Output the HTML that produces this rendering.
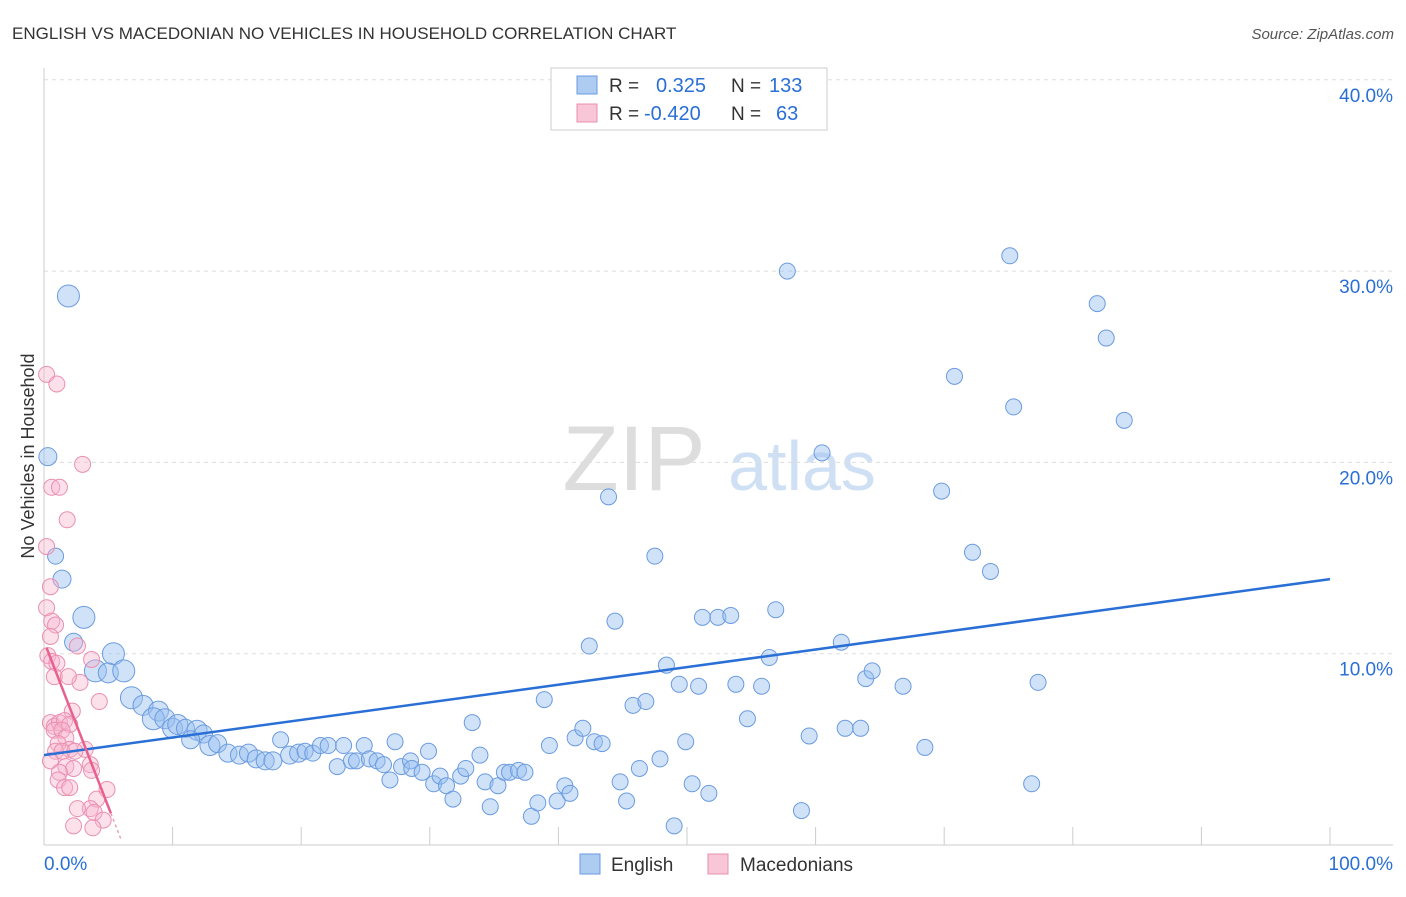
<!DOCTYPE html>
<html><head><meta charset="utf-8"><style>
body{margin:0;background:#fff;font-family:"Liberation Sans",sans-serif}
svg text{font-family:"Liberation Sans",sans-serif}
</style></head><body>
<svg id="chart" width="1406" height="892" xmlns="http://www.w3.org/2000/svg">
<text x="12" y="39" font-size="17" fill="#333">ENGLISH VS MACEDONIAN NO VEHICLES IN HOUSEHOLD CORRELATION CHART</text>
<text x="1394" y="39" font-size="15" fill="#555" text-anchor="end" font-style="italic">Source: ZipAtlas.com</text>
<g>
<text x="634" y="490" font-size="92" fill="#ddd" text-anchor="middle" font-family="Liberation Serif,serif">ZIP</text>
<text x="802" y="490" font-size="70" fill="#cfe0f5" text-anchor="middle">atlas</text>
</g>
<g id="grid"></g>
<g id="axes"></g>
<g id="marks"></g>
<g>
<rect x="551" y="68" width="276" height="62" fill="#fff" stroke="#ccc"/>
<rect x="577" y="76" width="20" height="18" fill="#aecbf2" stroke="#6b9be0"/>
<text x="609" y="92" font-size="19" fill="#333">R =</text>
<text x="656" y="92" font-size="20" fill="#2a6fd6">0.325</text>
<text x="731" y="92" font-size="19" fill="#333">N =</text>
<text x="769" y="92" font-size="20" fill="#2a6fd6">133</text>
<rect x="577" y="104" width="20" height="18" fill="#f8c6d6" stroke="#ea8fb0"/>
<text x="609" y="120" font-size="19" fill="#333">R =</text>
<text x="644" y="120" font-size="20" fill="#2a6fd6">-0.420</text>
<text x="731" y="120" font-size="19" fill="#333">N =</text>
<text x="776" y="120" font-size="20" fill="#2a6fd6">63</text>
</g>
<g>
<rect x="580" y="854" width="20" height="20" fill="#aecbf2" stroke="#6b9be0"/>
<text x="611" y="871" font-size="19" fill="#333">English</text>
<rect x="708" y="854" width="20" height="20" fill="#f8c6d6" stroke="#ea8fb0"/>
<text x="740" y="871" font-size="19" fill="#333">Macedonians</text>
</g>
<text transform="translate(34,456) rotate(-90)" font-size="18" fill="#333" text-anchor="middle">No Vehicles in Household</text>
</svg>
<script>
const yTicks=[10,20,30,40];
const yTickLabels=["10.0%","20.0%","30.0%","40.0%"];
const xTickLabels=["0.0%","100.0%"];
const blueX=[1.9,0.3,0.9,1.4,3.1,2.3,5.4,4.0,5.0,6.2,6.8,7.7,8.9,8.5,9.4,10.0,10.4,11.0,11.9,12.4,11.4,12.9,13.5,14.3,15.2,15.9,16.5,17.2,17.8,18.4,19.1,19.8,20.3,20.9,21.5,22.1,22.8,23.3,23.9,24.3,24.9,25.3,25.9,26.4,26.9,27.3,27.8,28.5,28.6,29.4,29.9,30.3,30.8,31.3,31.8,32.4,32.8,33.3,33.9,34.3,34.7,35.3,35.8,36.2,36.9,37.4,37.9,38.4,38.9,39.3,39.9,40.5,40.9,41.3,41.9,42.4,42.8,43.4,43.9,44.4,44.8,45.3,45.8,46.3,46.8,47.5,47.9,48.4,49.0,49.4,49.9,50.4,50.9,51.2,51.7,52.4,53.4,53.8,54.7,55.8,56.4,56.9,57.8,58.9,59.5,60.5,62.0,62.3,63.5,63.9,64.4,66.8,68.5,69.8,70.8,72.2,73.6,75.1,75.4,76.8,77.3,81.9,82.6,84.0];
const blueY=[28.7,20.3,15.1,13.9,11.9,10.6,10.0,9.1,9.0,9.1,7.7,7.3,7.0,6.6,6.6,6.1,6.3,6.1,6.0,5.8,5.5,5.2,5.3,4.8,4.7,4.8,4.5,4.4,4.4,5.5,4.7,4.8,4.9,4.8,5.2,5.2,4.1,5.2,4.4,4.4,5.2,4.5,4.4,4.2,3.4,5.4,4.1,4.4,4.0,3.8,4.9,3.2,3.6,3.1,2.4,3.6,4.0,6.4,4.7,3.3,2.0,3.1,3.8,3.8,3.9,3.8,1.5,2.2,7.6,5.2,2.3,3.1,2.7,5.6,6.1,10.4,5.4,5.3,18.2,11.7,3.3,2.3,7.3,4.0,7.5,15.1,4.5,9.4,1.0,8.4,5.4,3.2,8.3,11.9,2.7,11.9,12.0,8.4,6.6,8.3,9.8,12.3,30.0,1.8,5.7,20.5,10.6,6.1,6.1,8.7,9.1,8.3,5.1,18.5,24.5,15.3,14.3,30.8,22.9,3.2,8.5,28.3,26.5,22.2];
const blueSize=[11,9,8,9,11,9,11,11,10,11,11,10,10,11,10,10,10,9,10,9,9,10,9,9,9,9,9,9,9,8,9,9,8,8,8,8,8,8,8,8,8,8,8,8,8,8,8,8,8,8,8,8,8,8,8,8,8,8,8,8,8,8,8,8,8,8,8,8,8,8,8,8,8,8,8,8,8,8,8,8,8,8,8,8,8,8,8,8,8,8,8,8,8,8,8,8,8,8,8,8,8,8,8,8,8,8,8,8,8,8,8,8,8,8,8,8,8,8,8,8,8,8,8,8,8];
const pinkX=[0.2,1.0,3.0,0.6,1.2,1.8,0.2,0.5,0.2,0.6,0.9,0.5,2.6,0.3,0.6,3.7,1.0,0.8,2.8,1.9,4.3,2.2,0.5,0.8,1.2,1.6,2.0,0.8,1.4,1.7,1.1,2.0,3.2,0.9,1.4,2.4,0.5,1.7,2.3,3.6,3.7,1.2,1.1,1.6,2.0,4.9,4.1,3.6,2.6,3.9,4.6,2.3,3.8];
const pinkY=[24.6,24.1,19.9,18.7,18.7,17.0,15.6,13.5,12.4,11.7,11.5,10.9,10.4,9.9,9.6,9.7,9.5,8.8,8.5,8.8,7.5,7.0,6.4,6.2,6.4,6.5,6.3,6.0,6.0,5.6,5.3,5.0,5.0,4.9,4.9,4.9,4.4,4.1,4.0,4.2,3.9,3.8,3.4,3.0,3.0,2.9,2.4,1.9,1.9,1.7,1.3,1.0,0.9];
const blueTrend=[4.7,13.9];
const pinkTrend=[10.65,-1.73];
const X0=44,X1=1330,Y0=845,YPER=19.13;
const sx=v=>X0+(X1-X0)*v/100, sy=v=>Y0-v*YPER;
const NS="http://www.w3.org/2000/svg";
function mk(p,t,a){const e=document.createElementNS(NS,t);for(const k in a)e.setAttribute(k,a[k]);p.appendChild(e);return e;}
const grid=document.getElementById('grid'),axes=document.getElementById('axes'),marks=document.getElementById('marks');
yTicks.forEach((t,i)=>{
 const l=mk(grid,'line',{x1:X0,x2:1393,y1:sy(t),y2:sy(t),stroke:'#ddd','stroke-dasharray':'4,4'});
 
 
 const tx=mk(axes,'text',{x:1393,y:sy(t)+22,'font-size':19,fill:'#2a6fd6','text-anchor':'end'});
 tx.textContent=yTickLabels[i];
 
 
});
const ax=mk(axes,'line',{x1:X0,x2:X0,y1:68,y2:Y0,stroke:'#ccc'});


const bx=mk(axes,'line',{x1:X0,x2:1393,y1:Y0,y2:Y0,stroke:'#ccc'});


for(let i=0;i<=10;i++){
 const t=mk(axes,'line',{x1:sx(i*10),x2:sx(i*10),y1:Y0-18,y2:Y0,stroke:'#ccc'});
 
 
}
[[0,'start',44],[100,'end',1393]].forEach((d,i)=>{
 const t=mk(axes,'text',{x:d[2],y:870,'font-size':19,fill:'#2a6fd6','text-anchor':d[1]});
 t.textContent=xTickLabels[i];
 
 
});
blueX.forEach((v,i)=>{
 const c=mk(marks,'circle',{cx:sx(v),cy:sy(blueY[i]),r:blueSize[i],fill:'rgba(150,190,240,0.45)',stroke:'#6b9be0','stroke-width':1});
 
 
});
pinkX.forEach((v,i)=>{
 const c=mk(marks,'circle',{cx:sx(v),cy:sy(pinkY[i]),r:8,fill:'rgba(248,180,205,0.4)',stroke:'#ea8fb0','stroke-width':1});
 
 
});
const bl=mk(marks,'line',{x1:sx(0),y1:sy(blueTrend[0]),x2:sx(100),y2:sy(blueTrend[1]),stroke:'#2a6fd6','stroke-width':2.5});


const pf=x=>pinkTrend[0]+pinkTrend[1]*x;
const pl=mk(marks,'line',{x1:sx(0.2),y1:sy(pf(0.2)),x2:sx(5.2),y2:sy(pf(5.2)),stroke:'#e8608c','stroke-width':2.5});


const pd=mk(marks,'line',{x1:sx(5.2),y1:sy(pf(5.2)),x2:sx(6),y2:sy(pf(6)),stroke:'#e8a0b8','stroke-width':1.5,'stroke-dasharray':'3,3'});


</script>
</body></html>
